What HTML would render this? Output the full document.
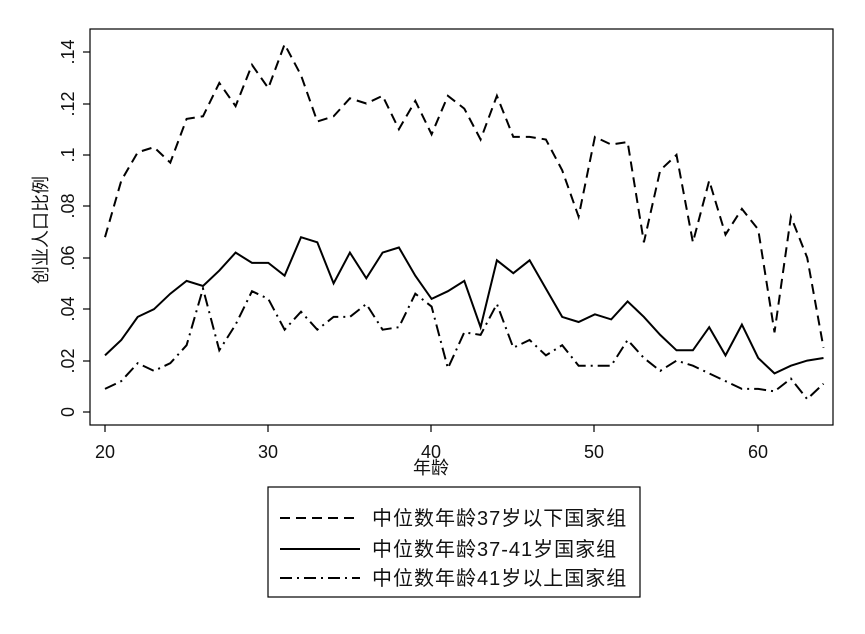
<!DOCTYPE html><html><head><style>body{margin:0;background:#fff}svg{display:block}text{font-family:"Liberation Sans","Noto Sans CJK SC",sans-serif;fill:#111}</style></head><body>
<svg id="s" width="865" height="634" xmlns="http://www.w3.org/2000/svg">
<rect x="0" y="0" width="865" height="634" fill="#fff"/>
<rect x="90" y="29" width="743" height="396" fill="none" stroke="#000" stroke-width="1.2"/>
<g stroke="#000" stroke-width="1.2">
<line x1="105" y1="425" x2="105" y2="432"/><line x1="268" y1="425" x2="268" y2="432"/><line x1="431" y1="425" x2="431" y2="432"/><line x1="594" y1="425" x2="594" y2="432"/><line x1="758" y1="425" x2="758" y2="432"/>
<line x1="83" y1="412" x2="90" y2="412"/><line x1="83" y1="361" x2="90" y2="361"/><line x1="83" y1="309" x2="90" y2="309"/><line x1="83" y1="258" x2="90" y2="258"/><line x1="83" y1="206" x2="90" y2="206"/><line x1="83" y1="155" x2="90" y2="155"/><line x1="83" y1="104" x2="90" y2="104"/><line x1="83" y1="52" x2="90" y2="52"/>
</g>
<g font-size="18" text-anchor="middle">
<text x="105" y="458">20</text><text x="268" y="458">30</text><text x="431" y="458">40</text><text x="594" y="458">50</text><text x="758" y="458">60</text>
<text x="431" y="474">年龄</text>
</g>
<g font-size="18" text-anchor="middle">
<text transform="translate(74,412) rotate(-90)">0</text>
<text transform="translate(74,361) rotate(-90)">.02</text>
<text transform="translate(74,309) rotate(-90)">.04</text>
<text transform="translate(74,258) rotate(-90)">.06</text>
<text transform="translate(74,206) rotate(-90)">.08</text>
<text transform="translate(74,155) rotate(-90)">.1</text>
<text transform="translate(74,104) rotate(-90)">.12</text>
<text transform="translate(74,52) rotate(-90)">.14</text>
<text transform="translate(47,230) rotate(-90)">创业人口比例</text>
</g>
<g id="lines" fill="none" stroke="#000" stroke-width="2"></g>
<rect x="268" y="487" width="372" height="110" fill="none" stroke="#000" stroke-width="1.2"/>
<line x1="280" y1="518" x2="360" y2="518" stroke="#000" stroke-width="2" stroke-dasharray="10,6"/>
<line x1="280" y1="549" x2="360" y2="549" stroke="#000" stroke-width="2"/>
<line x1="280" y1="578" x2="360" y2="578" stroke="#000" stroke-width="2" stroke-dasharray="12,5,2,5"/>
<g font-size="20" letter-spacing="1"><text x="372" y="525">中位数年龄37岁以下国家组</text><text x="372" y="556">中位数年龄37-41岁国家组</text><text x="372" y="585">中位数年龄41岁以上国家组</text></g>
</svg>
<script>
var A=[.068,.09,.101,.103,.097,.114,.115,.128,.119,.135,.126,.143,.131,.113,.115,.122,.120,.123,.110,.121,.108,.123,.118,.106,.123,.107,.107,.106,.094,.076,.107,.104,.105,.066,.094,.100,.066,.090,.069,.079,.071,.031,.076,.060,.025];
var B=[.022,.028,.037,.040,.046,.051,.049,.055,.062,.058,.058,.053,.068,.066,.050,.062,.052,.062,.064,.053,.044,.047,.051,.033,.059,.054,.059,.048,.037,.035,.038,.036,.043,.037,.030,.024,.024,.033,.022,.034,.021,.015,.018,.020,.021];
var C=[.009,.012,.019,.016,.019,.026,.048,.024,.034,.047,.044,.032,.039,.032,.037,.037,.042,.032,.033,.046,.041,.017,.031,.030,.042,.025,.028,.022,.026,.018,.018,.018,.028,.021,.016,.020,.018,.015,.012,.009,.009,.008,.013,.005,.011];
function p(d,da){var s=d.map(function(v,i){return (105+i*16.33).toFixed(1)+','+(412-v*2571).toFixed(1)}).join(' ');
var e=document.createElementNS('http://www.w3.org/2000/svg','polyline');e.setAttribute('points',s);if(da)e.setAttribute('stroke-dasharray',da);document.getElementById('lines').appendChild(e);}
p(A,'10,6');p(B,'');p(C,'12,5,2,5');
</script>
</body></html>
